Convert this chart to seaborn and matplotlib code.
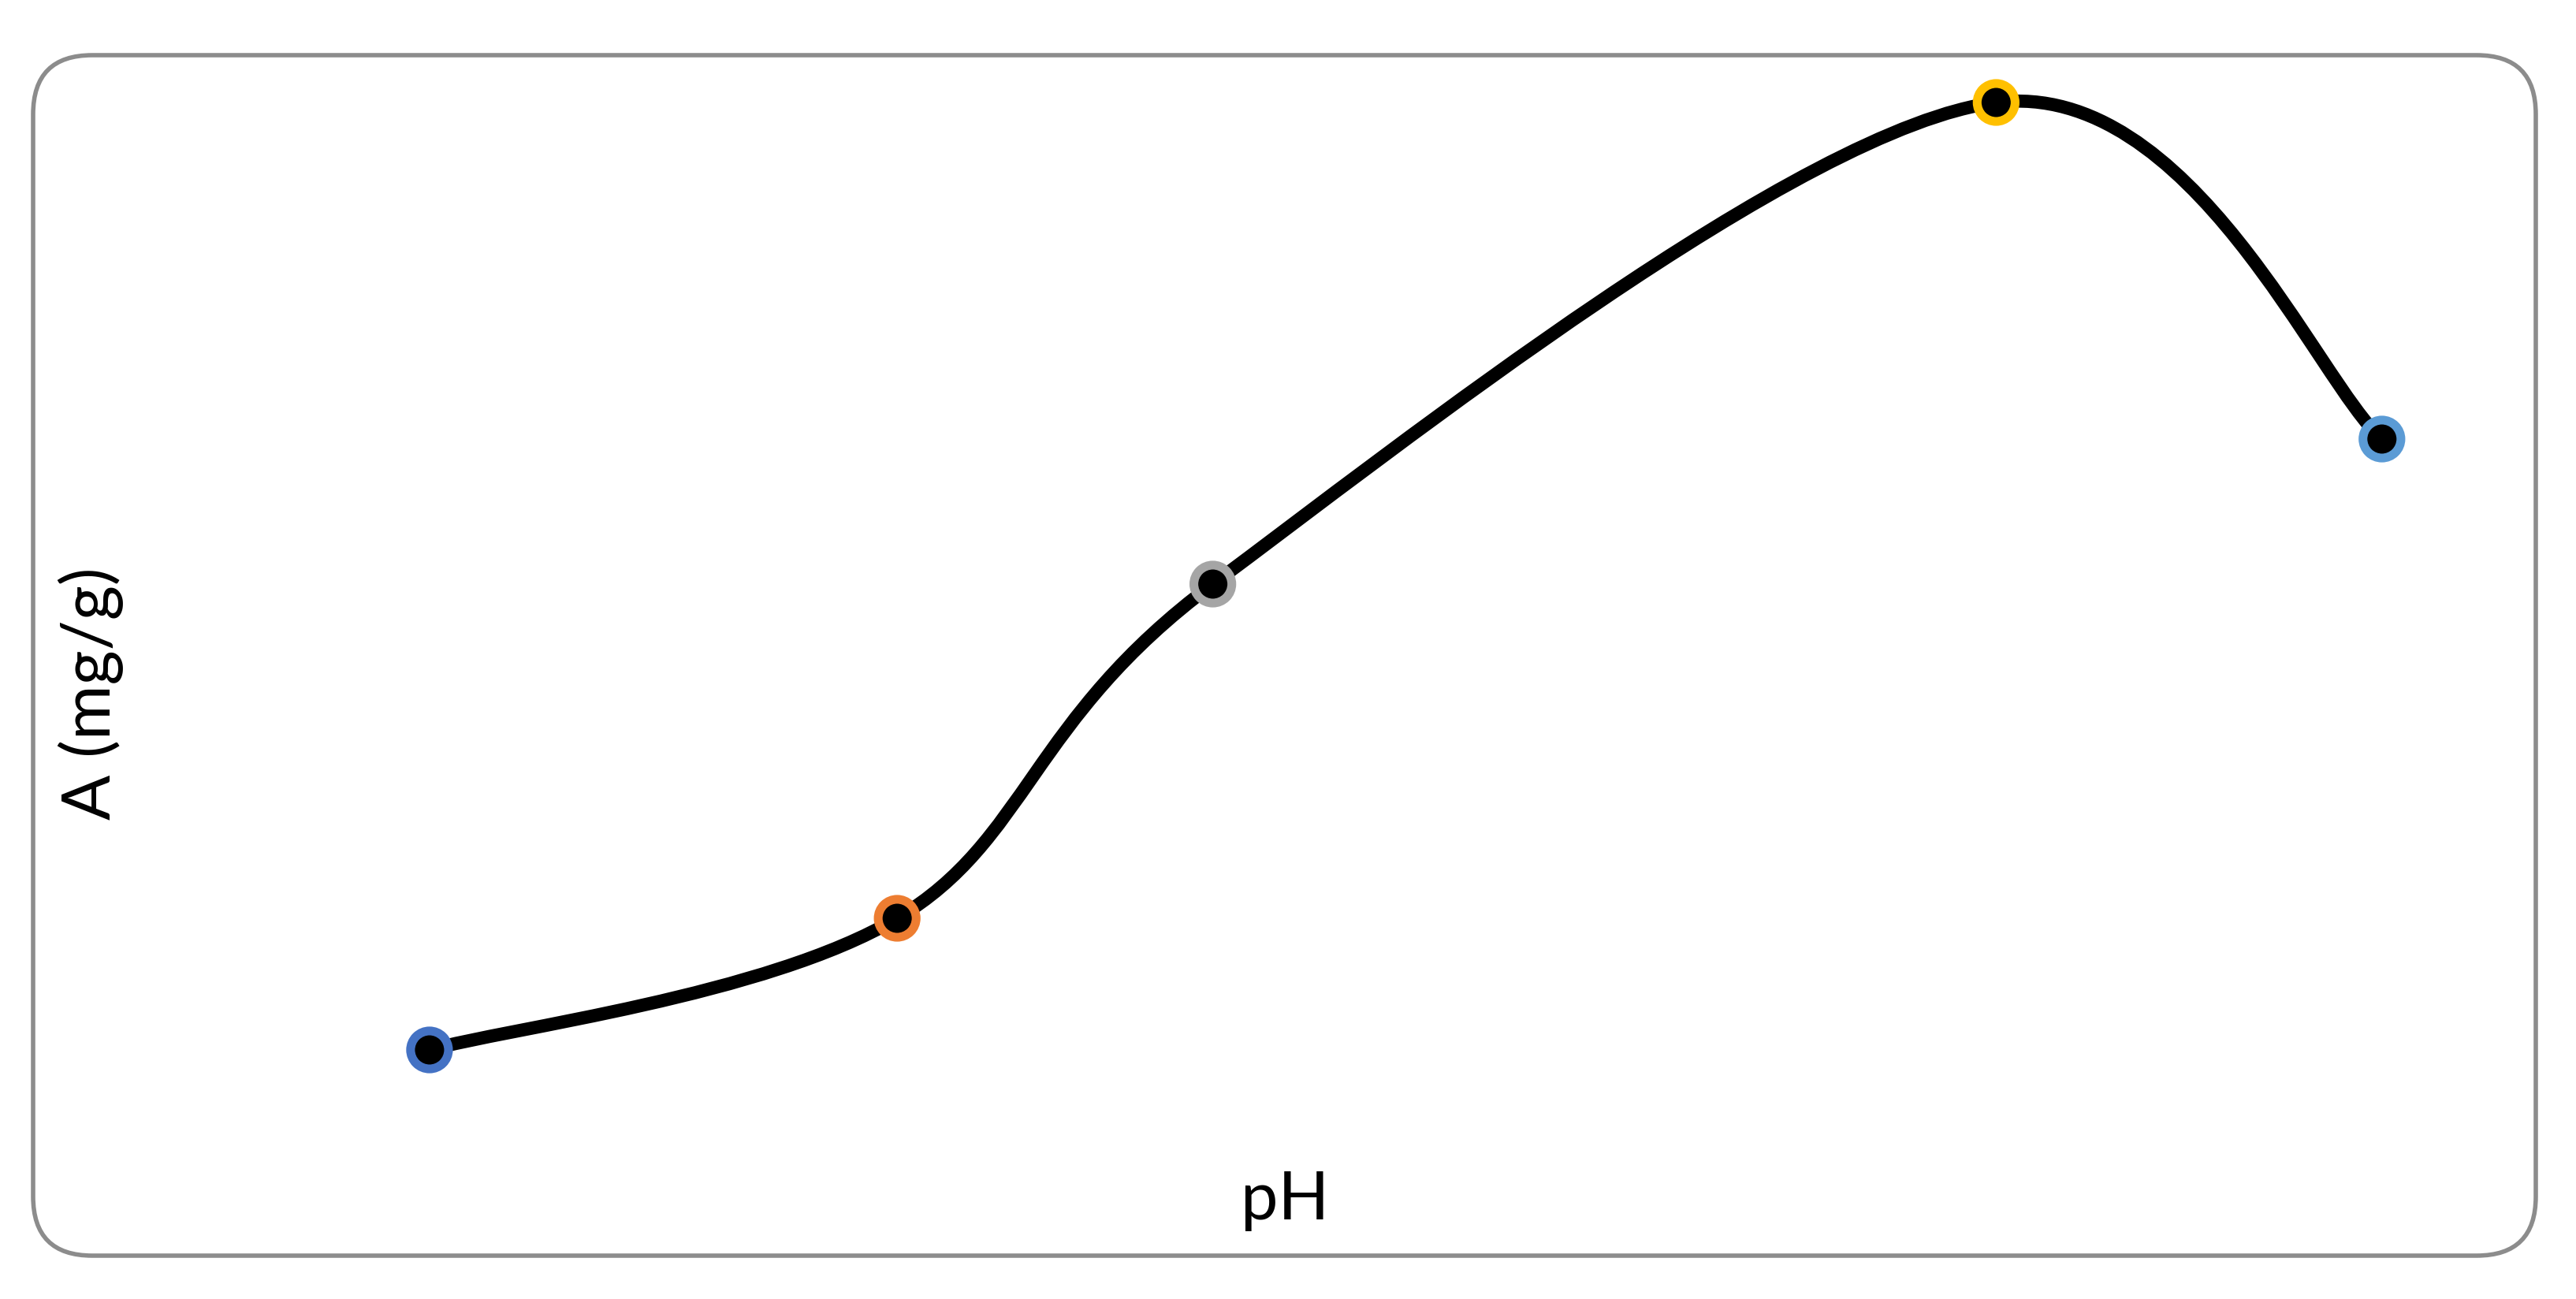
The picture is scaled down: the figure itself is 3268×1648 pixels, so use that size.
import matplotlib
matplotlib.use("Agg")
import matplotlib.pyplot as plt
from matplotlib.path import Path
from matplotlib.patches import PathPatch, FancyBboxPatch
import seaborn as sns
import pandas as pd
import numpy as np

# data (no ticks in the original, units are nominal)
ph = [2.0, 4.0, 5.35, 8.7, 10.35]
adsorption = [13.05, 21.4, 42.6, 73.15, 51.8]
edge_colors = ["#4472C4", "#ED7D31", "#A5A5A5", "#FFC000", "#5B9BD5"]

data = pd.DataFrame({"pH": ph, "A": adsorption, "c": edge_colors})

sns.set_theme(style="white")
plt.rcParams["font.family"] = ["Lato", "DejaVu Sans"]

fig = plt.figure(figsize=(32.68, 16.48), dpi=100)
ax = fig.add_axes([0, 0, 1, 1])
ax.set_xlim(0.163, 11.18)
ax.set_ylim(-2.75, 79.65)
ax.axis("off")

# smooth line through the points (Catmull-Rom style Bezier, like a spreadsheet "smoothed line")
pts = np.column_stack([data["pH"], data["A"]])
n = len(pts)
verts = [tuple(pts[0])]
codes = [Path.MOVETO]
for i in range(n - 1):
    p0 = pts[max(i - 1, 0)]
    p1 = pts[i]
    p2 = pts[i + 1]
    p3 = pts[min(i + 2, n - 1)]
    c1 = p1 + (p2 - p0) / 6
    c2 = p2 - (p3 - p1) / 6
    verts += [tuple(c1), tuple(c2), tuple(p2)]
    codes += [Path.CURVE4] * 3
curve = PathPatch(Path(verts, codes), facecolor="none", edgecolor="black",
                  linewidth=12, capstyle="round", zorder=2)
ax.add_patch(curve)

sns.scatterplot(data=data, x="pH", y="A", ax=ax, s=1200, color="black",
                edgecolor=data["c"].tolist(), linewidth=8, zorder=3, legend=False)

# rounded frame
frame = FancyBboxPatch((0.42, 0.55), 31.75, 15.23,
                       boxstyle="round,pad=0,rounding_size=0.75",
                       transform=fig.dpi_scale_trans, facecolor="none",
                       edgecolor="#8c8c8c", linewidth=4, zorder=1)
fig.patches.append(frame)

fig.text(1630 / 3268, 1 - 1523 / 1648, "pH", fontsize=61, ha="center", va="center",
         color="black")
fig.text(115 / 3268, 1 - 880 / 1648, "A (mg/g)", fontsize=61, ha="center", va="center",
         rotation=90, color="black")

fig.savefig("out.png", dpi=100)
